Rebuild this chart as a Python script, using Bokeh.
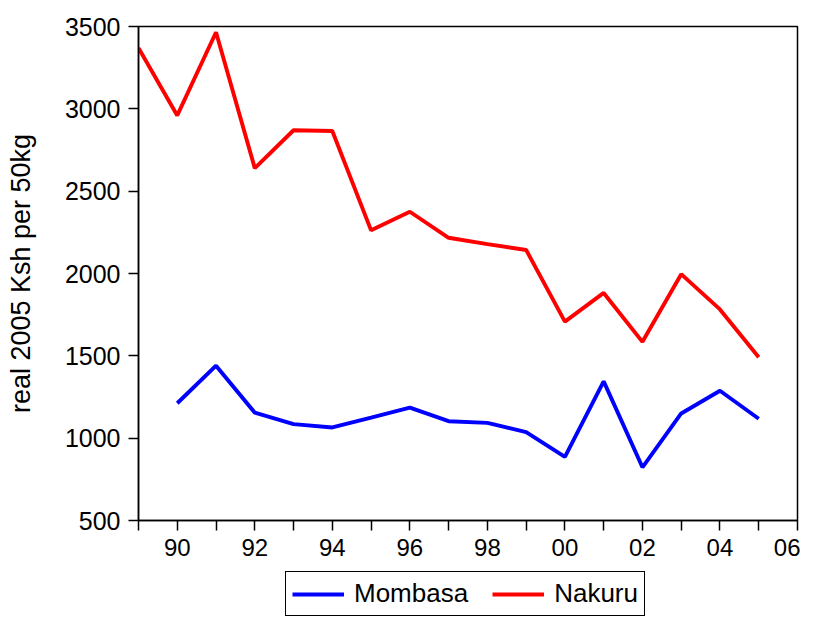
from bokeh.plotting import figure
from bokeh.models import FixedTicker, Legend, LegendItem
from bokeh.layouts import column
from bokeh.embed import file_html
from bokeh.resources import INLINE

years_nakuru = [1989, 1990, 1991, 1992, 1993, 1994, 1995, 1996, 1997, 1998,
                1999, 2000, 2001, 2002, 2003, 2004, 2005]
nakuru = [3370, 2960, 3465, 2640, 2870, 2865, 2262, 2375, 2217, 2178,
          2143, 1708, 1882, 1585, 1996, 1782, 1492]

years_mombasa = [1990, 1991, 1992, 1993, 1994, 1995, 1996, 1997, 1998,
                 1999, 2000, 2001, 2002, 2003, 2004, 2005]
mombasa = [1212, 1440, 1155, 1085, 1065, 1125, 1186, 1103, 1093,
           1037, 887, 1345, 823, 1150, 1288, 1118]

x_ticks = list(range(1989, 2007))
y_ticks = [500, 1000, 1500, 2000, 2500, 3000, 3500]
y_label = "real 2005 Ksh per 50kg"

FONT = "Liberation Sans"
BLUE = "#0000ff"
RED = "#ff0000"

p = figure(width=800, height=568, x_range=(1989, 2006), y_range=(500, 3500),
           output_backend="svg", toolbar_location=None,
           min_border_left=138, min_border_right=3, min_border_top=26,
           min_border_bottom=48)

p.xgrid.visible = False
p.ygrid.visible = False
p.outline_line_color = "black"
p.outline_line_width = 1.5
p.outline_line_alpha = 1.0
p.background_fill_color = "white"
p.border_fill_color = "white"

p.line(years_mombasa, mombasa, line_color=BLUE, line_width=3.9)
p.line(years_nakuru, nakuru, line_color=RED, line_width=3.9)

# x axis
p.xaxis.ticker = FixedTicker(ticks=x_ticks)
p.xaxis.major_label_overrides = {y: (f"{y % 100:02d}" if y % 2 == 0 else "") for y in x_ticks}
p.xaxis.major_tick_out = 10
p.xaxis.major_tick_in = 0
p.xaxis.minor_tick_out = 0
p.xaxis.minor_tick_in = 0
p.xaxis.major_label_standoff = 8
p.xaxis.major_label_text_font = FONT
p.xaxis.major_label_text_font_size = "24px"
p.xaxis.major_label_text_color = "black"
p.xaxis.axis_line_width = 1.5
p.xaxis.major_tick_line_width = 1.5

# y axis
p.yaxis.ticker = FixedTicker(ticks=y_ticks)
p.yaxis.major_tick_out = 10
p.yaxis.major_tick_in = 0
p.yaxis.minor_tick_out = 0
p.yaxis.minor_tick_in = 0
p.yaxis.major_label_standoff = 8
p.yaxis.major_label_text_font = FONT
p.yaxis.major_label_text_font_size = "25px"
p.yaxis.major_label_text_color = "black"
p.yaxis.axis_line_width = 1.5
p.yaxis.major_tick_line_width = 1.5
p.yaxis.axis_label = y_label
p.yaxis.axis_label_text_font = FONT
p.yaxis.axis_label_text_font_size = "27px"
p.yaxis.axis_label_text_font_style = "normal"
p.yaxis.axis_label_text_color = "black"
p.yaxis.axis_label_standoff = 26

# legend strip below the chart (its sample lines lie outside its view)
pl = figure(width=800, height=49, x_range=(0, 1), y_range=(0, 1),
            output_backend="svg", toolbar_location=None,
            x_axis_location=None, y_axis_location=None,
            min_border_left=0, min_border_right=0, min_border_top=0,
            min_border_bottom=0)
pl.xgrid.visible = False
pl.ygrid.visible = False
pl.outline_line_color = None
pl.background_fill_color = "white"
pl.border_fill_color = "white"
s1 = pl.line(years_mombasa, mombasa, line_color=BLUE, line_width=3.9)
s2 = pl.line(years_nakuru, nakuru, line_color=RED, line_width=3.9)

legend = Legend(items=[LegendItem(label="Mombasa", renderers=[s1]),
                       LegendItem(label="Nakuru", renderers=[s2])],
                orientation="horizontal", location=(147, 1),
                label_text_font=FONT, label_text_font_size="26px",
                label_text_color="black",
                glyph_width=52, glyph_height=20, label_standoff=10,
                spacing=24, padding=6, margin=0,
                border_line_color="black", border_line_width=1.5,
                border_line_alpha=1.0, background_fill_alpha=1.0)
pl.add_layout(legend, "center")

layout = column(p, pl, spacing=0)
open("out.html", "w").write(file_html(layout, INLINE))
